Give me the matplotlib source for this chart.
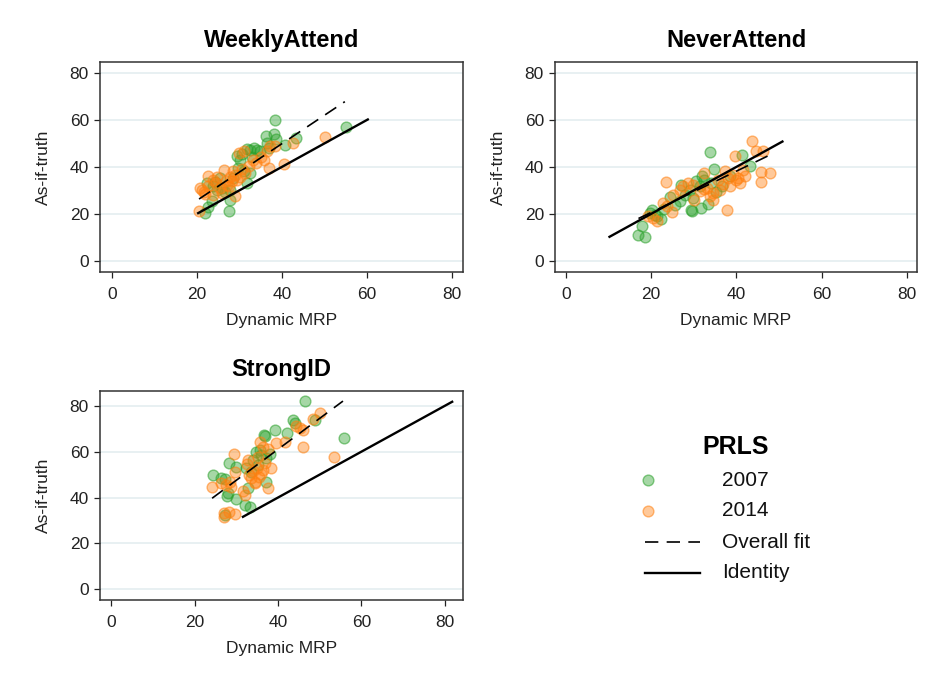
import matplotlib
matplotlib.use("Agg")
import matplotlib.pyplot as plt
from matplotlib.lines import Line2D

plt.rcParams['font.family'] = ['Liberation Sans', 'DejaVu Sans']

# ---------------- data ----------------
panel_titles = ["WeeklyAttend", "NeverAttend", "StrongID"]
years = ["2007", "2014"]
legend_title = "PRLS"
xlabel_text = "Dynamic MRP"
ylabel_text = "As-if-truth"
ticks = [0, 20, 40, 60, 80]

# WeeklyAttend
weekly_2007_x = [38.4, 55.0, 36.2, 38.1, 38.7, 43.4, 40.7, 33.4, 31.9, 34.1, 32.6, 34.8, 29.4, 30.1,
                 32.5, 29.7, 31.7, 27.8, 27.6, 21.9, 22.3, 23.9, 25.5, 23.5, 24.7, 26.7, 28.6, 31.0,
                 27.8, 22.5, 30.5, 33.0, 36.5, 37.0, 24.2, 26.0]
weekly_2007_y = [60.1, 57.0, 53.0, 54.1, 51.8, 52.3, 49.4, 48.0, 47.6, 47.3, 47.3, 46.6, 44.5, 43.0,
                 37.4, 39.5, 33.1, 26.0, 21.4, 20.3, 33.1, 31.7, 35.2, 25.3, 30.3, 29.5, 35.2, 38.1,
                 30.3, 23.0, 45.5, 44.0, 50.0, 48.0, 33.5, 31.0]
weekly_2014_x = [20.8, 20.6, 22.5, 50.2, 42.7, 40.4, 36.9, 35.7, 38.4, 29.0, 26.3, 21.7, 23.9, 25.5,
                 27.1, 28.2, 29.4, 30.2, 31.4, 28.6, 27.8, 32.2, 33.3, 29.8, 31.0, 37.3, 36.5, 24.7,
                 23.9, 22.7, 25.9, 27.5, 21.2, 24.5, 26.8, 28.9, 30.6, 33.8, 35.0, 22.0]
weekly_2014_y = [31.0, 21.0, 36.2, 52.7, 50.1, 41.3, 39.5, 43.0, 48.7, 27.4, 38.8, 29.5, 28.1, 31.0,
                 32.4, 33.8, 34.5, 35.9, 37.4, 38.1, 35.9, 40.2, 43.0, 45.9, 46.6, 48.7, 46.6, 35.9,
                 34.5, 31.7, 28.8, 31.7, 30.0, 33.0, 34.0, 36.5, 39.0, 41.5, 44.0, 28.5]
weekly_fit_x = [20.5, 54.8]
weekly_fit_y = [26.3, 67.8]
weekly_id_x = [20.3, 60.2]
weekly_id_y = [20.3, 60.2]

# NeverAttend
never_2007_x = [33.9, 41.3, 43.3, 34.7, 31.8, 32.3, 27.1, 30.6, 24.4, 29.6, 29.3, 31.7, 33.4, 35.3,
                20.1, 19.7, 17.9, 17.0, 18.5, 22.4, 21.3, 25.5, 26.7, 29.8, 31.4, 29.1, 34.1, 20.8,
                23.0, 28.0, 36.5, 38.5]
never_2007_y = [46.5, 45.2, 40.2, 39.1, 36.0, 34.5, 32.3, 33.8, 27.1, 21.0, 21.5, 22.5, 24.2, 29.1,
                21.7, 20.3, 14.6, 11.1, 10.1, 17.8, 18.9, 23.9, 25.3, 26.7, 31.7, 30.3, 33.1, 19.5,
                22.0, 28.0, 32.0, 36.0]
never_2014_x = [43.6, 44.7, 46.3, 39.6, 45.7, 48.0, 45.7, 23.4, 37.8, 32.3, 37.3, 39.2, 40.4, 40.8,
                38.4, 36.1, 34.5, 33.8, 29.8, 28.7, 27.5, 26.7, 25.2, 22.8, 23.6, 24.8, 21.3, 20.5,
                19.3, 31.4, 33.0, 35.7, 38.0, 40.0, 34.5, 42.0, 36.8, 32.5, 30.0, 41.5]
never_2014_y = [50.9, 46.9, 46.9, 44.5, 37.7, 37.4, 33.4, 33.4, 21.7, 37.4, 38.1, 36.7, 35.2, 33.1,
                31.7, 30.3, 28.8, 27.4, 32.4, 33.1, 31.7, 30.3, 28.1, 24.6, 23.2, 20.6, 16.8, 18.2,
                18.9, 29.6, 31.0, 34.5, 35.2, 34.5, 26.0, 36.0, 32.5, 30.5, 26.0, 38.5]
never_fit_x = [17.0, 48.0]
never_fit_y = [18.0, 45.2]
never_id_x = [10.2, 50.8]
never_id_y = [10.2, 50.8]

# StrongID
strong_2007_x = [46.4, 55.8, 43.6, 44.0, 48.8, 39.3, 42.2, 36.6, 37.0, 34.8, 35.6, 37.2, 28.2, 30.0,
                 32.4, 24.4, 26.4, 27.4, 37.2, 27.8, 28.0, 30.0, 32.8, 32.0, 33.2, 27.4, 34.0, 35.2,
                 36.0, 33.5, 38.0]
strong_2007_y = [82.1, 66.2, 73.8, 72.6, 73.8, 69.4, 68.3, 67.2, 66.8, 60.0, 60.7, 57.1, 55.2, 53.4,
                 52.7, 49.8, 48.4, 47.9, 46.9, 40.7, 41.8, 39.2, 44.0, 36.7, 35.7, 32.4, 56.4, 54.0,
                 58.5, 51.0, 59.0]
strong_2014_x = [50.2, 48.4, 44.4, 45.2, 46.0, 46.0, 53.4, 41.8, 39.6, 35.8, 36.4, 29.4, 32.8, 24.2,
                 26.4, 28.4, 29.6, 37.6, 38.4, 34.6, 32.0, 27.0, 28.2, 29.8, 27.0, 33.0, 34.0, 35.0,
                 36.0, 37.0, 33.5, 35.5, 36.5, 32.5, 31.5, 27.5, 28.8, 34.5, 37.5, 35.2]
strong_2014_y = [77.0, 74.5, 71.2, 70.2, 69.4, 61.9, 57.8, 64.3, 63.9, 64.3, 62.2, 59.0, 56.4, 44.4,
                 46.2, 46.9, 51.3, 44.0, 52.7, 46.2, 41.1, 33.4, 33.8, 32.8, 31.7, 50.0, 51.5, 53.0,
                 50.5, 55.0, 48.5, 49.0, 52.0, 54.5, 43.0, 45.5, 44.5, 47.0, 61.0, 57.5]
strong_fit_x = [24.2, 55.6]
strong_fit_y = [39.7, 82.1]
strong_id_x = [31.6, 81.8]
strong_id_y = [31.6, 81.8]

panels = [
    (weekly_2007_x, weekly_2007_y, weekly_2014_x, weekly_2014_y, weekly_fit_x, weekly_fit_y, weekly_id_x, weekly_id_y),
    (never_2007_x, never_2007_y, never_2014_x, never_2014_y, never_fit_x, never_fit_y, never_id_x, never_id_y),
    (strong_2007_x, strong_2007_y, strong_2014_x, strong_2014_y, strong_fit_x, strong_fit_y, strong_id_x, strong_id_y),
]

# ---------------- style ----------------
GREEN = (0.17, 0.63, 0.17)
ORANGE = (1.0, 0.50, 0.06)
GRID = "#e2ecef"
W, H = 934, 677

def rect(l, t, r, b):
    return [l / W, 1 - b / H, (r - l) / W, (b - t) / H]

fig = plt.figure(figsize=(W / 100, H / 100), dpi=100)
fig.patch.set_facecolor("white")

axes_rects = [rect(100, 62, 463, 272), rect(555, 62, 917, 272), rect(100, 391, 463, 600)]
xlims = [(-2.8, 82.6), (-2.6, 82.4), (-2.7, 84.4)]
ylims = [(-4.8, 84.7), (-4.8, 84.7), (-4.7, 86.5)]

def scatter_kw(c):
    return dict(s=60, facecolor=(*c, 0.42), edgecolor=(*c, 0.55), linewidth=1.0, zorder=3)

for i, (ax_r, title, data) in enumerate(zip(axes_rects, panel_titles, panels)):
    ax = fig.add_axes(ax_r)
    gx, gy, ox, oy, fx, fy, ix, iy = data
    ax.scatter(gx, gy, **scatter_kw(GREEN))
    ax.scatter(ox, oy, **scatter_kw(ORANGE))
    ax.plot(fx, fy, color="black", lw=1.2, linestyle=(0, (8, 5)), zorder=4)
    ax.plot(ix, iy, color="black", lw=1.7, zorder=4)
    ax.set_xlim(*xlims[i])
    ax.set_ylim(*ylims[i])
    ax.set_xticks(ticks)
    ax.set_yticks(ticks)
    for t in ticks:
        ax.axhline(t, color=GRID, lw=1.1, zorder=0)
    ax.tick_params(direction="out", length=4.5, width=0.9, labelsize=12.5,
                   colors="#222222", labelcolor="#222222")
    ax.tick_params(axis="x", pad=6.5)
    ax.tick_params(axis="y", pad=3.5)
    for sp in ax.spines.values():
        sp.set_color("#333333")
        sp.set_linewidth(1.1)
    ax.set_title(title, fontsize=17, fontweight="bold", pad=10.5)
    ax.set_xlabel(xlabel_text, fontsize=12.5, color="#222222")
    ax.set_ylabel(ylabel_text, fontsize=12.5, color="#222222")
    ax.xaxis.set_label_coords(0.5, -0.195)
    ax.yaxis.set_label_coords(-0.135, 0.5)

# ---------------- legend (manual, pixel layout) ----------------
lax = fig.add_axes([0, 0, 1, 1])
lax.set_xlim(0, W)
lax.set_ylim(H, 0)
lax.axis("off")
lax.text(736, 447, legend_title, fontsize=18, fontweight="bold", ha="center", va="center")
labels = years + ["Overall fit", "Identity"]
rows = [480, 511, 542, 573]
lax.scatter([648], [rows[0]], **scatter_kw(GREEN))
lax.scatter([648], [rows[1]], **scatter_kw(ORANGE))
lax.add_line(Line2D([645, 700], [rows[2], rows[2]], color="black", lw=1.2, linestyle=(0, (8, 5))))
lax.add_line(Line2D([645, 700], [rows[3], rows[3]], color="black", lw=1.7))
for lab, r in zip(labels, rows):
    lax.text(722, r, lab, fontsize=15, ha="left", va="center", color="#111111")

fig.savefig("out.png", dpi=100)
